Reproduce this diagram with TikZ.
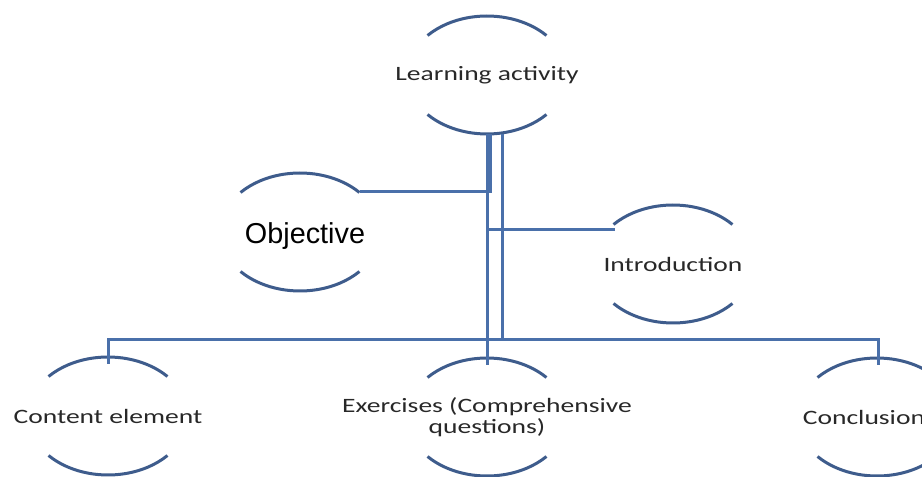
\documentclass[tikz,border=0pt]{standalone}
\usepackage{fontspec}
\setmainfont{Carlito}
\newfontfamily\arialfont{Liberation Sans}
\definecolor{linkblue}{RGB}{74,112,170}
\definecolor{ringblue}{RGB}{62,92,140}
\definecolor{textgray}{RGB}{40,40,40}
% two arcs of a squashed circle round a point
\newcommand{\ringarcs}[1]{%
\draw [ring] ([shift={(42:80 and 59)}]#1) arc [start angle=42, end angle=138, x radius=80, y radius=59];
\draw [ring] ([shift={(222:80 and 59)}]#1) arc [start angle=222, end angle=318, x radius=80, y radius=59];
}
\begin{document}
\begin{tikzpicture}[x=0.5pt,y=0.5pt]
\tikzstyle{ring}=[draw=ringblue, line width=1.5pt]
\tikzstyle{link}=[draw=linkblue, line width=1.5pt]
\tikzstyle{ctext}=[inner sep=0pt, align=center, xscale=1.35, text=textgray, font=\fontsize{10.2}{10.8}\selectfont]
\tikzstyle{otext}=[inner sep=0pt, text=black, font=\arialfont\fontsize{14.4}{17}\selectfont]
\useasboundingbox (0,0) rectangle (922,477);

\node [ctext] (learn) at (487,402) {Learning activity};
\node [otext] (obj) at (305,241) {Objective};
\node [ctext] (intro) at (673,213) {Introduction};
\node [ctext] (content) at (108,61) {Content element};
\node [ctext] (exer) at (487,60) {Exercises (Comprehensive\\questions)};
\node [ctext] (concl) at (864,60) {Conclusion};

\coordinate (obj-c) at (300,245);
\coordinate (concl-c) at (877,60);

\ringarcs{learn.center}
\ringarcs{obj-c}
\ringarcs{intro.center}
\ringarcs{content.center}
\ringarcs{exer.center}
\ringarcs{concl-c}

% connectors
\coordinate (obj-e) at ([shift={(60,40)}]obj-c);
\coordinate (intro-e) at ([shift={(-58,34)}]intro.center);
\coordinate (bus) at (487,137);

\draw [link] ([shift={(3,-59)}]learn.center) |- (obj-e);
\draw [link] ([shift={(0,-59)}]learn.center) -- ([shift={(0,52)}]exer.center);
\draw [link] ([shift={(15,-59)}]learn.center) -- ([xshift=7.5pt]bus);
\draw [link] (learn.center |- intro-e) -- (intro-e);
\draw [link] ([shift={(0,52)}]content.center) |- (bus) -| ([shift={(1,52)}]concl-c);

\end{tikzpicture}
\end{document}
